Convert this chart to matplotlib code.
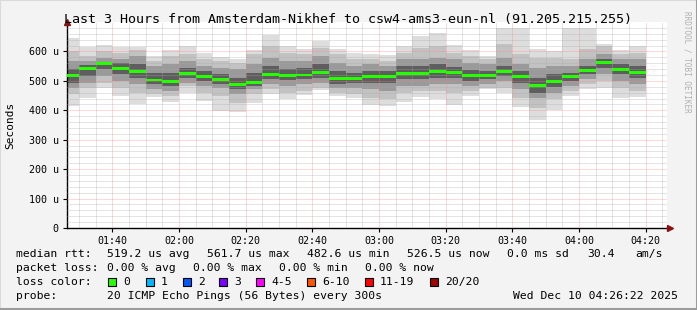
import matplotlib
matplotlib.use("Agg")
import matplotlib.pyplot as plt
from matplotlib.patches import Rectangle
from matplotlib.lines import Line2D

# Bar start times (minutes after midnight), one every 5 minutes from 01:25
bar_start = [85 + 5 * i for i in range(35)]

# median rtt per bar, in microseconds
median = [518, 541, 558, 542, 531, 503, 499, 526, 515, 504, 487, 495, 521, 517, 520, 527, 507, 509,
          514, 514, 525, 525, 533, 528, 517, 518, 533, 516, 483, 497, 516, 536, 562, 538, 527]

# smoke bands (outer -> inner), low / high edge, microseconds
band1_hi = [644, 614, 621, 616, 616, 583, 604, 617, 594, 580, 575, 605, 655, 620, 609, 637, 609, 596,
            591, 589, 619, 653, 662, 621, 606, 586, 680, 680, 609, 601, 680, 680, 625, 606, 618]
band1_lo = [416, 442, 475, 449, 423, 445, 429, 460, 430, 398, 395, 426, 456, 437, 452, 470, 447, 441,
            419, 413, 429, 446, 437, 418, 449, 471, 460, 410, 366, 400, 449, 471, 475, 442, 444]
band2_hi = [602, 585, 602, 596, 604, 568, 585, 591, 574, 568, 562, 591, 619, 596, 591, 613, 591, 574,
            574, 568, 596, 613, 619, 596, 585, 574, 624, 591, 579, 579, 574, 608, 619, 591, 596]
band2_lo = [455, 477, 494, 477, 460, 455, 449, 483, 460, 449, 426, 455, 471, 460, 466, 477, 460, 455,
            443, 437, 460, 466, 466, 460, 466, 477, 477, 443, 409, 437, 466, 488, 500, 477, 466]
band3_hi = [568, 568, 579, 574, 585, 551, 557, 568, 551, 545, 540, 557, 579, 568, 568, 585, 562, 551,
            557, 551, 574, 574, 579, 574, 562, 557, 579, 557, 545, 551, 551, 574, 591, 574, 574]
band3_lo = [477, 494, 517, 500, 488, 471, 466, 494, 483, 477, 455, 471, 488, 483, 488, 494, 477, 477,
            471, 466, 483, 483, 488, 488, 483, 491, 500, 471, 443, 460, 483, 505, 522, 500, 488]
band4_hi = [540, 554, 565, 559, 557, 528, 528, 545, 534, 522, 511, 528, 551, 540, 545, 557, 534, 528,
            534, 532, 551, 551, 557, 548, 536, 534, 551, 534, 511, 522, 528, 551, 574, 557, 551]
band4_lo = [494, 517, 540, 522, 511, 491, 483, 511, 500, 491, 471, 483, 505, 502, 505, 511, 491, 494,
            494, 494, 505, 505, 511, 511, 500, 505, 517, 494, 460, 480, 500, 522, 545, 522, 511]

y_ticks = [0, 100, 200, 300, 400, 500, 600]
x_ticks = [100, 120, 140, 160, 180, 200, 220, 240, 260]

loss_labels = ["0", "1", "2", "3", "4-5", "6-10", "11-19", "20/20"]
loss_colors = ["#26ff00", "#00b8ff", "#0059ff", "#7e00ff", "#ff00ff", "#ff5500", "#ff0000", "#a10000"]

W, H = 697, 310
mono = "DejaVu Sans Mono"
fig = plt.figure(figsize=(W / 100, H / 100), dpi=100)
fig.patch.set_facecolor("#f3f3f3")

# plot area in pixels: x 67..667, y 22..228
ax = fig.add_axes([67 / W, (H - 228) / H, 600 / W, 206 / H])
ax.set_facecolor("white")
ax.set_xlim(86 + 22 / 60, 266 + 22 / 60)
ax.set_ylim(0, 700)

# smoke
bands = [(band1_lo, band1_hi, "#dddddd"), (band2_lo, band2_hi, "#c2c2c2"),
         (band3_lo, band3_hi, "#9a9a9a"), (band4_lo, band4_hi, "#5e5e5e")]
for lo, hi, col in bands:
    ax.bar(bar_start, [h - l for l, h in zip(lo, hi)], bottom=lo, width=5, align="edge",
           color=col, linewidth=0, zorder=2)

# median (loss 0 -> green)
ax.bar(bar_start, 10, bottom=[m - 5 for m in median], width=5, align="edge",
       color=loss_colors[0], linewidth=0, zorder=4)

# grid
for t in range(90, 267, 5):
    if t % 20 == 0:
        ax.axvline(t, color="#ff8080", alpha=0.6, lw=0.72, ls=(0, (1, 1)), zorder=3)
    else:
        ax.axvline(t, color="#a8a8a8", alpha=0.6, lw=0.72, ls=(0, (1, 1)), zorder=3)
for v in range(20, 700, 20):
    if v % 100 == 0:
        ax.axhline(v, color="#ff8080", alpha=0.6, lw=0.72, ls=(0, (1, 1)), zorder=3)
    else:
        ax.axhline(v, color="#a8a8a8", alpha=0.6, lw=0.72, ls=(0, (1, 1)), zorder=3)

for s in ["top", "right"]:
    ax.spines[s].set_visible(False)
ax.spines["left"].set_linewidth(1.0)
ax.spines["bottom"].set_linewidth(1.0)

ax.set_yticks(y_ticks)
ax.set_yticklabels(["0" if v == 0 else f"{v} u" for v in y_ticks], fontfamily=mono, fontsize=7.2)
ax.set_xticks(x_ticks)
ax.set_xticklabels([f"{t // 60:02d}:{t % 60:02d}" for t in x_ticks], fontfamily=mono, fontsize=7.2)
ax.tick_params(axis="both", length=3, width=0.8, pad=3)

# arrows on the axes
ax.plot([0], [1.0], marker="^", color="#8b1010", markersize=5, transform=ax.transAxes, clip_on=False, zorder=6)
ax.plot([1.005], [0], marker=">", color="#8b1010", markersize=5, transform=ax.transAxes, clip_on=False, zorder=6)

def ftxt(x, y, s, **kw):
    fig.text(x / W, 1 - y / H, s, fontfamily=mono, va="center", **kw)

ftxt(64, 19, "Last 3 Hours from Amsterdam-Nikhef to csw4-ams3-eun-nl (91.205.215.255)", fontsize=9.6)
ftxt(10, 125, "Seconds", fontsize=8, rotation=90, ha="center")
ftxt(687, 62, "RRDTOOL / TOBI OETIKER", fontsize=5.5, rotation=270, ha="center", color="#b0b0b0")

fs = 8.2
ftxt(16, 254, "median rtt:", fontsize=fs)
for x, s in [(107, "519.2 us avg"), (207, "561.7 us max"), (307, "482.6 us min"),
             (407, "526.5 us now"), (507, "0.0 ms sd"), (587, "30.4"), (635, "am/s")]:
    ftxt(x, 254, s, fontsize=fs)
ftxt(16, 268, "packet loss:", fontsize=fs)
for x, s in [(107, "0.00 % avg"), (193, "0.00 % max"), (279, "0.00 % min"), (365, "0.00 % now")]:
    ftxt(x, 268, s, fontsize=fs)
ftxt(16, 282, "loss color:", fontsize=fs)
sq_x = [108, 146, 183, 219, 256, 307, 365, 430]
for x, lab, col in zip(sq_x, loss_labels, loss_colors):
    fig.patches.append(Rectangle((x / W, 1 - 286 / H), 8 / W, 8 / H, transform=fig.transFigure,
                                 facecolor=col, edgecolor="black", linewidth=0.8))
    ftxt(x + 15, 282, lab, fontsize=fs)
ftxt(16, 296, "probe:", fontsize=fs)
ftxt(107, 296, "20 ICMP Echo Pings (56 Bytes) every 300s", fontsize=fs)
ftxt(513, 296, "Wed Dec 10 04:26:22 2025", fontsize=fs)

# 3d-ish frame
fig.lines.append(Line2D([0, 0, 1], [0, 1, 1], transform=fig.transFigure, color="#dadada", lw=1.5))
fig.lines.append(Line2D([0, 1, 1], [0.003, 0.003, 1], transform=fig.transFigure, color="#9c9c9c", lw=2.2))

fig.savefig("out.png", dpi=100, facecolor=fig.get_facecolor())
